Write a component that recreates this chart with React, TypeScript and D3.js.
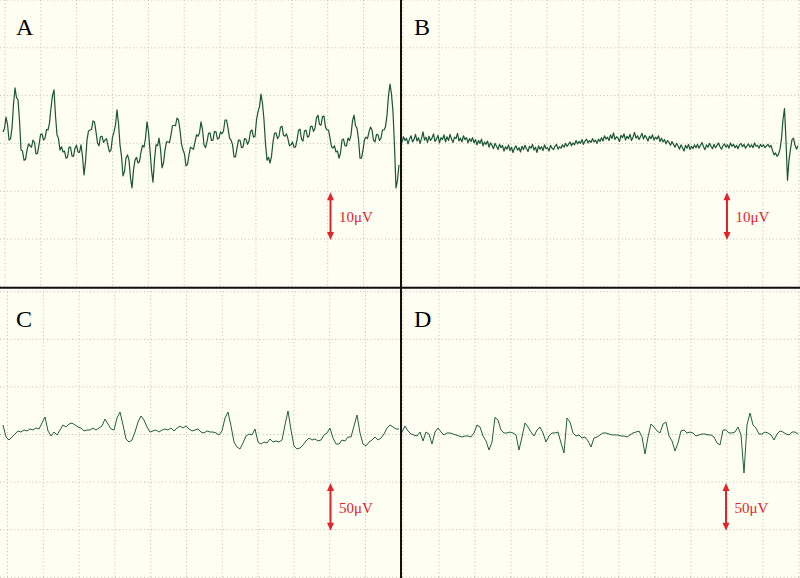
import React from 'react';
import * as d3 from 'd3';

// ---- Data (µV), one sample per time step ----
const panelLabels = ['A', 'B', 'C', 'D'];
const scaleLabels = ['10μV', '10μV', '50μV', '50μV'];
const scaleBarUV = [10, 10, 50, 50];

const aValues = [
  2.4, 3.1, 5.5, 4.0, 0.7, 0.9, 3.2, 8.2, 11.6, 9.6,
  9.1, 4.8, -1.4, -1.6, -3.5, -3.4, -1.4, -0.1, -0.5, -0.8,
  0.7, 0.2, -2.2, -2.1, -0.3, 1.8, 2.0, 0.7, 1.1, 2.9,
  2.8, 4.3, 7.4, 10.0, 11.2, 5.8, 1.8, 1.0, -1.4, -0.7,
  -1.8, -1.6, -3.1, -2.9, -0.8, -0.8, -2.6, -2.7, -1.0, -0.4,
  -1.8, -1.9, -0.3, -2.7, -6.6, -3.8, 0.7, 2.6, 2.8, 2.9,
  4.7, 4.5, 2.4, 0.1, -0.5, 1.4, 1.5, 0.2, 0.7, 1.0,
  -0.5, -1.8, -1.4, 1.3, 2.4, 3.9, 7.0, 4.2, -0.3, -2.7,
  -6.8, -5.9, -3.1, -2.4, -3.5, -7.2, -9.3, -5.6, -3.5, -2.9,
  -4.1, -3.8, -1.8, -0.4, -0.8, 1.1, 4.5, 2.4, -1.4, -5.6,
  -8.1, -3.4, -0.3, -0.5, 1.1, -1.2, -5.1, -4.1, -1.4, 0.3,
  0.3, 0.2, 1.8, 3.7, 3.8, 3.7, 5.3, 4.9, 2.8, -0.1,
  -1.4, -2.2, -4.7, -4.4, -2.4, -0.8, -1.0, -1.2, 0.3, 1.8,
  1.5, 2.2, 4.5, 2.9, -0.3, -0.9, 0.3, 2.1, 2.2, 0.6,
  0.7, 2.5, 2.4, 0.9, 1.1, 2.4, 2.0, 2.6, 4.9, 4.9,
  3.2, 1.1, 0.7, -0.2, -2.8, -2.8, -1.0, 0.7, 0.7, -0.9,
  -0.8, 1.0, 0.9, -0.2, 0.5, 2.5, 2.8, 1.3, 1.5, 4.9,
  6.6, 7.7, 10.3, 8.3, 4.9, -0.1, -3.5, -2.9, -4.1, -2.7,
  0.3, 2.1, 2.2, 1.0, 1.5, 3.4, 3.6, 1.7, 1.5, 2.0,
  0.9, -0.5, -0.3, 0.3, -0.8, -0.8, 0.7, 2.7, 3.0, 0.9,
  0.5, 2.6, 2.8, 1.3, 1.5, 3.5, 3.6, 2.5, 3.2, 5.4,
  5.9, 4.0, 3.8, 5.6, 5.7, 3.4, 2.8, 2.8, 1.1, -0.7,
  -1.0, -0.5, -1.8, -1.6, -3.1, -2.0, 0.7, 0.9, -0.5, -0.5,
  1.1, 0.6, 1.8, 4.7, 5.9, 3.7, 3.2, 0.9, -3.1, -3.1,
  -1.4, 0.8, 1.3, 1.0, 2.4, 3.4, 2.8, 0.7, 0.3, 1.9,
  1.8, 0.6, 1.1, 2.8, 2.8, 3.5, 5.9, 10.0, 12.4, 10.3,
  6.6, -0.6, -9.3, -7.7, -4.5,
];

const bValues = [
  0.2, 1.4, 0.6, 1.1, -0.1, 0.9, 1.6, 0.3, 0.8, 1.9,
  0.5, 1.2, 0.0, 1.0, 2.4, 0.7, 1.3, 0.2, 1.5, 0.6,
  1.1, 2.0, 0.4, 0.9, 1.7, 0.1, 1.2, 0.8, 1.8, 0.3,
  1.4, 0.6, 1.9, 0.9, 0.2, 1.3, 1.0, 2.1, 0.5, 1.1,
  0.3, 1.6, 0.8, 1.2, 0.1, 1.0,
  0.4, 1.2, 0.1, 0.8, -0.3, 0.6, 0.0, 0.9, -0.5, 0.3,
  -0.2, 0.5, -0.8, 0.1, -0.4, -1.1, 0.0, -0.6, -1.3, -0.2,
  -0.9, -0.4, -1.6, -0.7, -1.2, -0.3, -1.5, -0.8, -1.9, -1.0,
  -0.5, -1.4, -0.9, -1.8, -0.6,
  -1.3, -0.4, -1.1, -1.7, -0.6, -1.0, -0.2, -1.4, -0.8, -1.9,
  -0.5, -1.2, -0.7, -1.5, -0.3, -1.1, -0.9, -1.6, -0.4, -1.0,
  -1.3, -0.6, -0.2, -1.2, -0.7,
  -1.0, -0.3, -0.8, 0.0, -0.6, -0.2, 0.3, -0.5, 0.1, -0.3,
  0.6, -0.1, 0.4, 0.0, 0.8, -0.2, 0.5, 0.9, 0.1, 0.6,
  0.2, 1.0, 0.3, 0.7, 0.0, 0.9, 0.4,
  1.2, 0.5, 1.6, 0.9, 1.3, 0.6, 1.8, 1.0, 2.2, 0.8,
  1.4, 1.1, 0.4, 1.7, 1.2, 2.0, 0.7, 1.5, 1.0, 1.9,
  0.6, 1.3, 2.3, 1.1, 1.6, 0.8, 1.4, 2.1, 0.9, 1.7,
  1.2, 0.5, 1.5, 1.0, 1.8, 0.7, 1.3, 0.9, 1.6, 0.4,
  1.1, 0.3, 0.8, -0.1, 0.6, 0.2, -0.4, 0.4, -0.2, -0.8,
  0.0, -0.5, -1.2, -0.3, -0.9, -1.6, -0.4, -1.0, -0.2, -1.3,
  -0.6, -1.1, -0.3,
  -0.9, -0.2, -1.0, -0.4, 0.2, -0.7, -1.3, -0.3, -0.8, 0.0,
  -0.6, -1.1, -0.2, -0.9, -0.4, 0.1, -0.7, -1.2, -0.5, -0.1,
  -0.8, -0.3, -1.0, 0.1, -0.6, -0.2, -0.9, -0.4, -1.1, -0.3,
  0.0, -0.7, -0.2, -1.0, -0.5, -0.1, -0.8, -0.3, -0.9, 0.1,
  -0.6, -0.4, -1.0, -0.2, -0.7, -0.3, -0.9, -0.5, -0.2, -0.8,
  -0.4,
  -1.5, -2.4, -2.0, -2.7, -2.3, -1.2, 1.0, 5.0, 7.3, 0.5,
  -7.7, -3.5, -1.2, 0.8, 1.1, -0.4, -1.2, -0.5,
];

const cValues = [
  10.0, -2.6, -5.8, -2.6, 0.5, 3.7, 2.6, 4.7, 3.7, 5.8,
  4.7, 6.8, 5.8, 12.1, 18.4, 3.7, -1.6, 2.6, -0.5, 4.7,
  10.0, 7.9, 11.0, 12.1, 10.0, 7.9, 6.8, 3.7, 4.7, 4.7,
  6.8, 4.7, 6.8, 8.9, 16.3, 11.0, 5.8, 4.7, 17.3, 23.6,
  10.0, -4.7, -7.9, -5.8, 2.6, 13.1, 19.4, 15.2, 7.9, 2.6,
  3.7, 4.7, 2.6, 4.7, 5.8, 4.7, 6.8, 3.7, 6.8, 8.9,
  6.8, 8.9, 5.8, 3.7, 4.7, 5.8, 2.6, 1.6, 3.7, 2.6,
  2.6, 1.6, -0.5, 3.7, 17.3, 23.6, 8.9, -7.9, -13.1, -15.2,
  -8.9, -1.6, 0.5, -0.5, 5.8, -7.9, -10.0, -7.9, -8.9, -4.7,
  -7.9, -6.8, -7.9, -5.8, 10.0, 24.7, 4.7, -12.1, -15.2, -14.2,
  -11.0, -6.8, -3.7, -5.8, -4.7, -6.8, -5.8, -0.5, 1.6, 6.8,
  -3.7, -10.0, -10.0, -5.8, -6.8, -2.6, -2.6, 8.9, 20.5, 1.6,
  -10.0, -12.1, -7.9, -5.8, -2.6, -5.8, -3.7, 0.5, 6.8, 10.0,
  7.9, 5.8, 5.8,
];

const dValues = [
  2.6, 8.9, 3.7, 0.5, -0.5, -1.6, 2.6, -6.8, 2.6, 0.5,
  -10.0, 2.6, 6.8, 2.6, -0.5, 1.6, 1.6, 0.5, -0.5, -1.6,
  -2.6, -1.6, -1.6, -2.6, 1.6, 10.0, 7.9, -1.6, -6.8, -16.3,
  -7.9, 18.0, 15.2, 4.7, 1.6, 1.6, 2.6, 1.6, -0.5, -16.3,
  -2.6, 12.1, 7.9, 2.6, -1.6, 4.7, 7.9, 1.6, -7.9, -1.6,
  1.6, 1.6, 2.6, -8.9, -19.4, 17.3, 13.1, 1.6, -1.6, -0.5,
  -3.7, -2.6, -6.8, -13.1, -3.7, -2.6, -0.5, 1.6, 1.6, 0.5,
  -0.5, -0.5, -0.5, -1.6, -1.6, -2.6, -0.5, 1.6, 2.6, 3.7,
  -2.6, -20.5, -2.6, 11.0, 7.9, 3.7, 1.6, 11.0, 13.1, -1.6,
  -6.8, -17.3, -8.9, 3.7, 4.7, 1.6, 2.6, 1.6, -1.6, -0.5,
  0.5, 0.5, -0.5, -0.5, -2.6, -8.9, -11.0, 4.7, 4.7, 1.6,
  1.6, 2.6, 7.9, -0.5, -40.4, 10.0, 22.6, 10.0, 6.8, 0.5,
  0.5, 2.6, 1.6, -0.5, -5.8, 0.5, 3.7, 2.6, 0.5, -0.5,
  2.6, 2.6, 0.5,
];

const seriesList = [aValues, bValues, cValues, dValues];

// ---- Layout ----
const W = 800;
const H = 578;
const BG = '#FEFEF3';
const GRID = '#BDBDAE';
const TRACE_DENSE = '#1A5535';
const TRACE_SMOOTH = '#22603F';
const RED = '#E3242B';
const SERIF = "'Liberation Serif', 'Times New Roman', serif";

type Geo = {
  traceX: [number, number];
  gridX0: number;
  gridStep: number;
  gridN: number;
  xLeft: number;
  xRight: number;
  yTop: number;
  yBottom: number;
  range: number;
  barX: number;
  labelPos: [number, number];
  stroke: string;
  strokeWidth: number;
};

const geos: Geo[] = [
  { traceX: [3, 399], gridX0: 5, gridStep: 35.85, gridN: 11, xLeft: 0, xRight: 400, yTop: 0, yBottom: 286.8, range: 30, barX: 330.5, labelPos: [16, 35], stroke: TRACE_DENSE, strokeWidth: 1.2 },
  { traceX: [402, 798], gridX0: 403, gridStep: 36, gridN: 12, xLeft: 402, xRight: 800, yTop: 0, yBottom: 286.8, range: 30, barX: 727, labelPos: [414, 35], stroke: TRACE_DENSE, strokeWidth: 1.2 },
  { traceX: [3, 399], gridX0: 7.5, gridStep: 35.8, gridN: 11, xLeft: 0, xRight: 400, yTop: 291.7, yBottom: 577.3, range: 150, barX: 330.5, labelPos: [16, 327], stroke: TRACE_SMOOTH, strokeWidth: 1 },
  { traceX: [402, 798], gridX0: 403, gridStep: 36, gridN: 12, xLeft: 402, xRight: 800, yTop: 291.7, yBottom: 577.3, range: 150, barX: 726, labelPos: [414, 327], stroke: TRACE_SMOOTH, strokeWidth: 1 },
];

function Arrow({ x, y1, y2 }: { x: number; y1: number; y2: number }) {
  const hw = 3.5;
  const hl = 8;
  return (
    <g fill={RED} stroke="none">
      <line x1={x} x2={x} y1={y1 + hl - 1} y2={y2 - hl + 1} stroke={RED} strokeWidth={2} />
      <path d={`M${x},${y1} L${x - hw},${y1 + hl} L${x + hw},${y1 + hl} Z`} />
      <path d={`M${x},${y2} L${x - hw},${y2 - hl} L${x + hw},${y2 - hl} Z`} />
    </g>
  );
}

function Panel({ i }: { i: number }) {
  const g = geos[i];
  const values = seriesList[i];
  const y = d3.scaleLinear().domain([-g.range, g.range]).range([g.yBottom, g.yTop]);
  const x = d3.scaleLinear().domain([0, values.length - 1]).range(g.traceX);
  const line = d3
    .line<number>()
    .x((_, k) => x(k))
    .y((v) => y(v));
  const step = g.range / 3;
  const hTicks = d3.range(-g.range, g.range + 0.001, step);
  const vTicks = d3.range(g.gridN).map((k) => g.gridX0 + k * g.gridStep);
  const bar = scaleBarUV[i];
  const yb1 = y(-bar);
  const yb2 = y(-2 * bar);
  return (
    <g>
      {hTicks.map((t, k) => (
        <line key={'h' + k} x1={g.xLeft} x2={g.xRight} y1={y(t)} y2={y(t)} stroke={GRID} strokeWidth={1} strokeDasharray="1,2.6" />
      ))}
      {vTicks.map((vx, k) => (
        <line key={'v' + k} x1={vx} x2={vx} y1={g.yTop} y2={g.yBottom} stroke={GRID} strokeWidth={1} strokeDasharray="1,2.6" />
      ))}
      <path d={line(values) || ''} fill="none" stroke={g.stroke} strokeWidth={g.strokeWidth} strokeLinejoin="round" />
      <text x={g.labelPos[0]} y={g.labelPos[1]} fontFamily={SERIF} fontSize={24} fill="#000">
        {panelLabels[i]}
      </text>
      <Arrow x={g.barX} y1={yb1 + 1} y2={yb2 + 1} />
      <text x={g.barX + 8.5} y={(yb1 + yb2) / 2 + 7} fontFamily={SERIF} fontSize={15} fill={RED}>
        {scaleLabels[i]}
      </text>
    </g>
  );
}

export default function App() {
  return (
    <svg
      width={W}
      height={H}
      viewBox={`0 0 ${W} ${H}`}
      style={{ position: 'absolute', left: 0, top: 0, display: 'block' }}
    >
      <rect x={0} y={0} width={W} height={H} fill={BG} />
      {[0, 1, 2, 3].map((i) => (
        <Panel key={i} i={i} />
      ))}
      <line x1={0} x2={W} y1={287.7} y2={287.7} stroke="#111" strokeWidth={2} />
      <line x1={401} x2={401} y1={0} y2={H} stroke="#111" strokeWidth={2} />
    </svg>
  );
}
